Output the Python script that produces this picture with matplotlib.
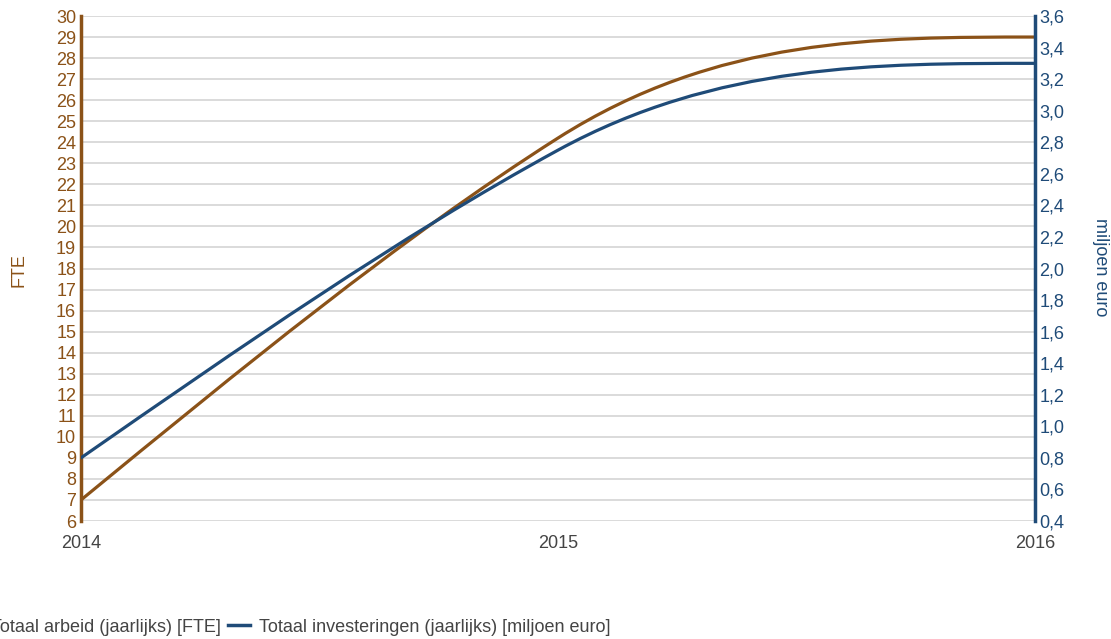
import numpy as np
import matplotlib.pyplot as plt
from matplotlib.path import Path
from matplotlib.patches import PathPatch
from matplotlib.lines import Line2D
from matplotlib.ticker import MultipleLocator, FuncFormatter

plt.rcParams['font.family'] = ['Liberation Sans', 'DejaVu Sans']

# data
jaren = [2014, 2015, 2016]
arbeid_fte = [7.0, 24.2, 29.0]          # linker as
investeringen = [0.8, 2.75, 3.3]        # rechter as (miljoen euro)
labels = ['Totaal arbeid (jaarlijks) [FTE]',
          'Totaal investeringen (jaarlijks) [miljoen euro]']

bruin = '#8b5218'
blauw = '#1f4b78'
grid_kleur = '#d4d4d4'
tekst_grijs = '#444444'
fs = 13


def glad_pad(x, y):
    # monotone spline als bezier-pad door de datapunten
    x = np.asarray(x, float)
    y = np.asarray(y, float)
    h = np.diff(x)
    s = np.diff(y) / h
    t = np.zeros_like(y)
    for i in range(1, len(y) - 1):
        if s[i - 1] * s[i] > 0:
            t[i] = np.sign(s[i]) * 3 * min(abs(s[i - 1]), abs(s[i]))
    t[0] = (3 * s[0] - t[1]) / 2
    t[-1] = (3 * s[-1] - t[-2]) / 2
    verts = [(x[0], y[0])]
    codes = [Path.MOVETO]
    for i in range(len(h)):
        d = h[i] / 3
        verts += [(x[i] + d, y[i] + t[i] * d),
                  (x[i + 1] - d, y[i + 1] - t[i + 1] * d),
                  (x[i + 1], y[i + 1])]
        codes += [Path.CURVE4] * 3
    return Path(verts, codes)


fig = plt.figure(figsize=(11.11, 6.39), dpi=100)
ax = fig.add_axes([81 / 1111, 1 - 521 / 639, (1035 - 81) / 1111, (521 - 16) / 639])
ax2 = ax.twinx()

ax.set_xlim(2014, 2016)
ax.set_ylim(6, 30)
ax2.set_ylim(0.4, 3.6)

ax.add_patch(PathPatch(glad_pad(jaren, arbeid_fte), fill=False, edgecolor=bruin,
                       lw=2.3, capstyle='round', zorder=3))
ax2.add_patch(PathPatch(glad_pad(jaren, investeringen), fill=False, edgecolor=blauw,
                        lw=2.3, capstyle='round', zorder=3))

# grid
ax.yaxis.set_major_locator(MultipleLocator(1))
ax.grid(axis='y', color=grid_kleur, lw=1.2)
ax.set_axisbelow(True)
ax2.yaxis.set_major_locator(MultipleLocator(0.2))
ax2.yaxis.set_major_formatter(FuncFormatter(lambda v, p: f'{v:.1f}'.replace('.', ',')))

ax.set_xticks(jaren)
ax.set_xticklabels([str(j) for j in jaren])

for a in (ax, ax2):
    for sp in a.spines.values():
        sp.set_visible(False)

ax.spines['left'].set_visible(True)
ax.spines['left'].set_color(bruin)
ax.spines['left'].set_linewidth(2.5)
ax2.spines['right'].set_visible(True)
ax2.spines['right'].set_color(blauw)
ax2.spines['right'].set_linewidth(2.5)

ax.tick_params(axis='y', length=0, pad=3.5, labelsize=fs, labelcolor=bruin)
ax.tick_params(axis='x', length=0, pad=10, labelsize=fs, labelcolor=tekst_grijs)
ax2.tick_params(axis='y', length=0, pad=3, labelsize=fs, labelcolor=blauw)

fig.text(19 / 1111, 1 - 270 / 639, 'FTE', rotation=90, color=bruin,
         fontsize=fs, ha='center', va='center')
fig.text(1101 / 1111, 1 - 267 / 639, 'miljoen euro', rotation=270, color=blauw,
         fontsize=fs, ha='center', va='center')

handles = [Line2D([], [], color=bruin, lw=2.5), Line2D([], [], color=blauw, lw=2.5)]
fig.legend(handles, labels, loc='center right', bbox_to_anchor=(611 / 1111, 1 - 627 / 639),
           ncol=2, frameon=False, fontsize=fs, handlelength=1.2, handletextpad=0.55,
           columnspacing=0.4, labelcolor=tekst_grijs, borderaxespad=0, borderpad=0)

fig.savefig('out.png', dpi=100)
